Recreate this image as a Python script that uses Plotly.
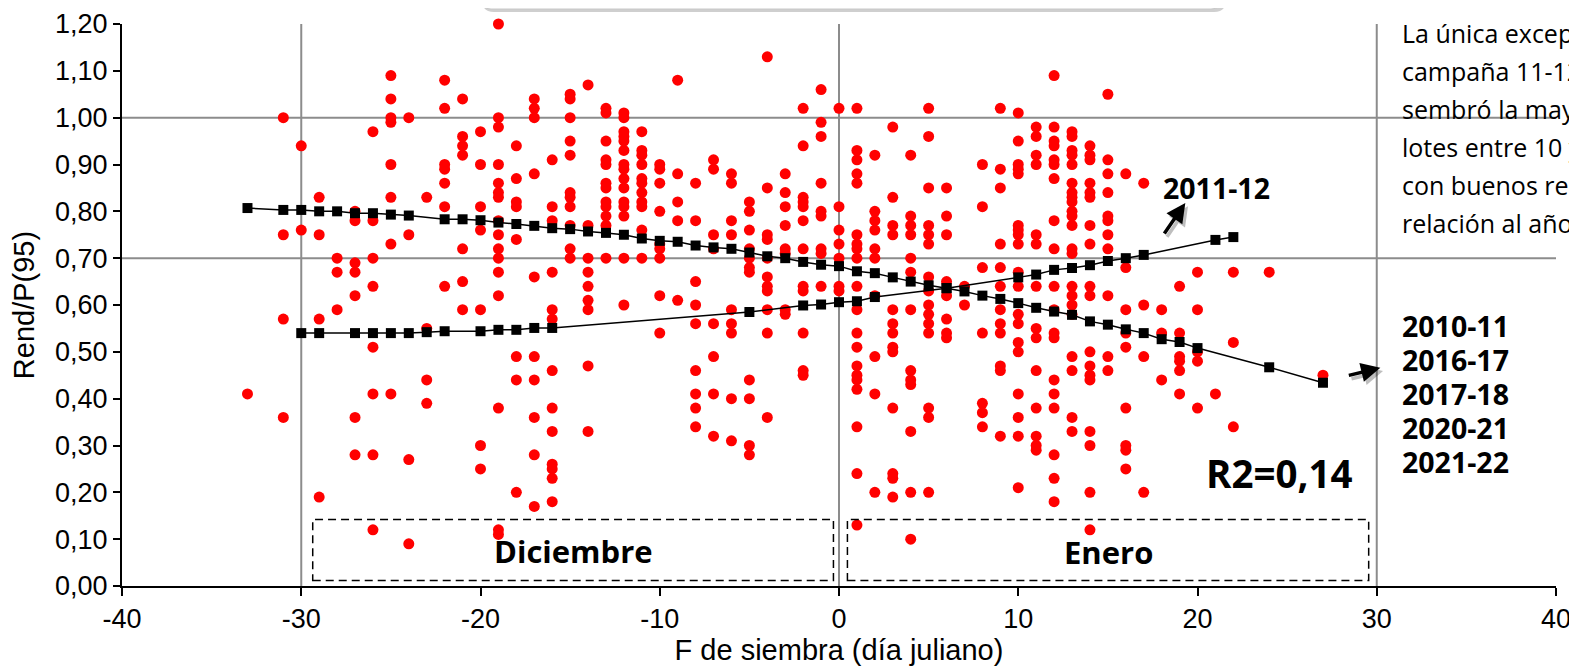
import plotly.graph_objects as go

# Observaciones: día juliano relativo y Rend/P(95) de cada lote
dias = [-33, -31, -30, -29, -28, -27, -26, -25, -24, -23, -22, -21, -20, -19, -18,
        -17, -16, -15, -14, -13, -12, -11, -10, -9, -8, -7, -6, -5, -4, -3, -2, -1,
        0, 1, 2, 3, 4, 5, 6, 7, 8, 9, 10, 11, 12, 13, 14, 15, 16, 17, 18, 19, 20,
        21, 22, 24, 27]
rend = [
    [0.41],
    [1.00, 0.75, 0.57, 0.36],
    [0.94, 0.76],
    [0.83, 0.75, 0.57, 0.19],
    [0.70, 0.67, 0.59],
    [0.80, 0.78, 0.69, 0.67, 0.62, 0.36, 0.28],
    [0.97, 0.78, 0.70, 0.64, 0.51, 0.41, 0.28, 0.12],
    [1.09, 1.04, 1.00, 0.99, 0.90, 0.83, 0.73, 0.41],
    [1.00, 0.75, 0.27, 0.09],
    [0.83, 0.55, 0.44, 0.39],
    [1.08, 1.02, 0.90, 0.89, 0.86, 0.81, 0.64],
    [1.04, 0.96, 0.94, 0.92, 0.72, 0.65, 0.59],
    [0.97, 0.90, 0.81, 0.76, 0.59, 0.30, 0.25],
    [1.20, 1.00, 0.98, 0.90, 0.86, 0.84, 0.83, 0.78, 0.75, 0.72, 0.70, 0.67, 0.62,
     0.38, 0.12, 0.11],
    [0.94, 0.87, 0.82, 0.81, 0.74, 0.49, 0.44, 0.20],
    [1.04, 1.02, 1.00, 0.88, 0.66, 0.49, 0.44, 0.36, 0.28, 0.17],
    [0.91, 0.81, 0.78, 0.67, 0.59, 0.57, 0.46, 0.38, 0.33, 0.26, 0.25, 0.23, 0.18],
    [1.05, 1.04, 1.00, 0.95, 0.92, 0.84, 0.83, 0.81, 0.77, 0.72, 0.70],
    [1.07, 0.77, 0.70, 0.67, 0.64, 0.61, 0.59, 0.47, 0.33],
    [1.02, 1.01, 0.95, 0.91, 0.90, 0.86, 0.85, 0.82, 0.81, 0.79, 0.77, 0.70],
    [1.01, 1.00, 0.97, 0.96, 0.95, 0.93, 0.90, 0.89, 0.87, 0.85, 0.82, 0.81, 0.79,
     0.70, 0.60],
    [0.97, 0.93, 0.92, 0.90, 0.87, 0.86, 0.84, 0.82, 0.81, 0.76, 0.70],
    [0.90, 0.89, 0.86, 0.80, 0.73, 0.72, 0.70, 0.62, 0.54],
    [1.08, 0.88, 0.82, 0.78, 0.61],
    [0.86, 0.78, 0.65, 0.60, 0.56, 0.46, 0.41, 0.38, 0.34],
    [0.91, 0.89, 0.75, 0.72, 0.56, 0.49, 0.41, 0.32],
    [0.88, 0.86, 0.78, 0.75, 0.59, 0.56, 0.54, 0.40, 0.31],
    [0.82, 0.80, 0.76, 0.72, 0.70, 0.68, 0.67, 0.44, 0.40, 0.30, 0.28],
    [1.13, 0.85, 0.75, 0.74, 0.70, 0.66, 0.64, 0.63, 0.59, 0.54, 0.36],
    [0.88, 0.84, 0.81, 0.77, 0.72, 0.71, 0.59, 0.58],
    [1.02, 0.94, 0.83, 0.82, 0.81, 0.78, 0.72, 0.64, 0.63, 0.54, 0.46, 0.45],
    [1.06, 0.99, 0.96, 0.86, 0.80, 0.79, 0.72, 0.71, 0.64],
    [1.02, 0.81, 0.76, 0.73, 0.70, 0.64, 0.63],
    [1.02, 0.93, 0.91, 0.88, 0.86, 0.75, 0.73, 0.72, 0.70, 0.64, 0.59, 0.54, 0.51,
     0.47, 0.45, 0.44, 0.42, 0.34, 0.24, 0.13],
    [0.92, 0.80, 0.78, 0.76, 0.72, 0.70, 0.62, 0.49, 0.41, 0.20],
    [0.98, 0.83, 0.77, 0.75, 0.59, 0.56, 0.54, 0.51, 0.50, 0.38, 0.24, 0.23, 0.19],
    [0.92, 0.79, 0.77, 0.75, 0.70, 0.67, 0.59, 0.46, 0.44, 0.43, 0.33, 0.20, 0.10],
    [1.02, 0.96, 0.85, 0.77, 0.75, 0.73, 0.66, 0.63, 0.60, 0.58, 0.56, 0.54, 0.38,
     0.36, 0.20],
    [0.85, 0.79, 0.75, 0.65, 0.62, 0.57, 0.54, 0.53],
    [0.64, 0.60],
    [0.90, 0.81, 0.68, 0.54, 0.39, 0.37, 0.34],
    [1.02, 0.89, 0.85, 0.73, 0.68, 0.64, 0.59, 0.56, 0.54, 0.47, 0.46, 0.32],
    [1.01, 0.95, 0.90, 0.89, 0.88, 0.77, 0.76, 0.75, 0.73, 0.67, 0.64, 0.58, 0.56,
     0.52, 0.50, 0.41, 0.36, 0.32, 0.21],
    [0.98, 0.96, 0.92, 0.90, 0.75, 0.73, 0.64, 0.55, 0.53, 0.46, 0.38, 0.32, 0.30,
     0.29],
    [1.09, 0.98, 0.95, 0.94, 0.91, 0.90, 0.87, 0.78, 0.72, 0.64, 0.59, 0.54, 0.53,
     0.44, 0.41, 0.38, 0.28, 0.23, 0.18],
    [0.97, 0.96, 0.93, 0.92, 0.90, 0.86, 0.84, 0.83, 0.82, 0.80, 0.79, 0.77, 0.72,
     0.71, 0.64, 0.62, 0.60, 0.58, 0.49, 0.46, 0.36, 0.33],
    [0.94, 0.92, 0.91, 0.86, 0.84, 0.83, 0.77, 0.73, 0.64, 0.62, 0.50, 0.47, 0.45,
     0.44, 0.33, 0.30, 0.20, 0.12],
    [1.05, 0.91, 0.88, 0.84, 0.79, 0.78, 0.75, 0.72, 0.62, 0.49, 0.46],
    [0.88, 0.68, 0.59, 0.54, 0.51, 0.38, 0.30, 0.29, 0.25],
    [0.86, 0.60, 0.49, 0.20],
    [0.59, 0.54, 0.44],
    [0.64, 0.54, 0.49, 0.48, 0.46, 0.41],
    [0.67, 0.59, 0.50, 0.48, 0.38],
    [0.41],
    [0.67, 0.52, 0.34],
    [0.67],
    [0.45],
]

# Ajuste general (todas las campañas menos 2011-12)
ajuste_dias = [-33, -31, -30, -29, -28, -27, -26, -25, -24, -22, -21, -20, -19, -18,
               -17, -16, -15, -14, -13, -12, -11, -10, -9, -8, -7, -6, -5, -4, -3,
               -2, -1, 0, 1, 2, 3, 4, 5, 6, 7, 8, 9, 10, 11, 12, 13, 14, 15, 16, 17,
               18, 19, 20, 24, 27]
ajuste_rend = [0.807, 0.803, 0.803, 0.800, 0.800, 0.796, 0.796, 0.793, 0.791, 0.783,
               0.783, 0.781, 0.776, 0.773, 0.769, 0.764, 0.762, 0.757, 0.754, 0.750,
               0.742, 0.737, 0.735, 0.727, 0.723, 0.720, 0.712, 0.704, 0.700, 0.692,
               0.686, 0.683, 0.672, 0.668, 0.659, 0.650, 0.642, 0.636, 0.629, 0.620,
               0.613, 0.604, 0.594, 0.586, 0.579, 0.565, 0.558, 0.548, 0.540, 0.527,
               0.521, 0.508, 0.467, 0.434]

# Ajuste campaña 2011-12
ajuste_1112_dias = [-30, -29, -27, -26, -25, -24, -23, -22, -20, -19, -18, -17, -16,
                    -5, -2, -1, 0, 1, 2, 6, 10, 11, 12, 13, 14, 15, 16, 17, 21, 22]
ajuste_1112_rend = [0.540, 0.540, 0.540, 0.540, 0.540, 0.540, 0.542, 0.544, 0.544,
                    0.547, 0.547, 0.551, 0.551, 0.585, 0.599, 0.601, 0.606, 0.608,
                    0.617, 0.636, 0.659, 0.665, 0.675, 0.679, 0.685, 0.694, 0.700,
                    0.707, 0.739, 0.745]

x_ticks = [-40, -30, -20, -10, 0, 10, 20, 30, 40]
y_ticks = [0.0, 0.1, 0.2, 0.3, 0.4, 0.5, 0.6, 0.7, 0.8, 0.9, 1.0, 1.1, 1.2]
campanias = ["2010-11", "2016-17", "2017-18", "2020-21", "2021-22"]
texto_lateral = ["fecha de siembra.", "La única excepción fue la",
                 "campaña 11-12 donde se", "sembró la mayoría de los",
                 "lotes entre 10 y 20 de enero", "con buenos rendimientos en",
                 "relación al año."]

obs_x = [d for d, vals in zip(dias, rend) for v in vals]
obs_y = [v for vals in rend for v in vals]

# la página agrega 8 px de margen al cuerpo
OFF = 8
W, H = 1577 - OFF, 666 - OFF
ML, MR, MT, MB = 114, 21, 16, 80
PW, PH = W - ML - MR, H - MT - MB


def px(fx):
    return (fx - OFF - ML) / PW


def py(fy):
    return (H - MB - (fy - OFF)) / PH


fig = go.Figure()

fig.add_trace(go.Scatter(
    x=obs_x, y=obs_y, mode="markers",
    marker=dict(color="#ff0000", size=11),
    cliponaxis=False
))

fig.add_trace(go.Scatter(
    x=ajuste_dias, y=ajuste_rend, mode="lines+markers",
    line=dict(color="black", width=1.5),
    marker=dict(symbol="square", size=10, color="black")
))

fig.add_trace(go.Scatter(
    x=ajuste_1112_dias, y=ajuste_1112_rend, mode="lines+markers",
    line=dict(color="black", width=1.5),
    marker=dict(symbol="square", size=10, color="black")
))

grid = dict(color="#8c8c8c", width=2)
shapes = []
for xv in [-30, 0, 30]:
    shapes.append(dict(type="line", x0=xv, x1=xv, y0=0, y1=1.2, line=grid, layer="below"))
for yv in [0.7, 1.0]:
    shapes.append(dict(type="line", x0=-40, x1=40, y0=yv, y1=yv, line=grid, layer="below"))

caja = dict(color="black", width=1.5, dash="8px,5px")
shapes.append(dict(type="rect", x0=-29.36, x1=-0.31, y0=0.012, y1=0.142, line=caja))
shapes.append(dict(type="rect", x0=0.47, x1=29.55, y0=0.012, y1=0.142, line=caja))


def rounded(x0, x1, y0, y1, r):
    return (f"M {px(x0 + r)} {py(y1)} L {px(x1 - r)} {py(y1)} "
            f"Q {px(x1)} {py(y1)} {px(x1)} {py(y1 - r)} "
            f"L {px(x1)} {py(y0)} L {px(x0)} {py(y0)} "
            f"L {px(x0)} {py(y1 - r)} Q {px(x0)} {py(y1)} {px(x0 + r)} {py(y1)} Z")


# recuadro superior (cortado)
shapes.append(dict(type="path", xref="paper", yref="paper",
                   path=rounded(482, 1226, -40, 12, 12),
                   fillcolor="#cfcfcf", line=dict(width=0)))
shapes.append(dict(type="path", xref="paper", yref="paper",
                   path=rounded(479, 1223, -40, 9, 12),
                   fillcolor="white", line=dict(color="#c8c8c8", width=1)))
shapes.append(dict(type="line", xref="paper", yref="paper",
                   x0=px(494), x1=px(1210), y0=py(2), y1=py(2),
                   line=dict(color="#c6e3b3", width=2)))

bold = dict(family="Open Sans, Lato, sans-serif", color="black", weight="bold")
annotations = [
    dict(x=-14.83, y=0.074, text="Diciembre", showarrow=False, font=dict(bold, size=31)),
    dict(x=15.03, y=0.072, text="Enero", showarrow=False, font=dict(bold, size=31)),
    dict(x=17.94, y=0.850, text="2011-12", xanchor="left", showarrow=False,
         font=dict(bold, size=28.5)),
    dict(x=24.57, y=0.242, text="R2=0,14", showarrow=False, font=dict(bold, size=38.5)),
]
for i, c in enumerate(campanias):
    annotations.append(dict(x=31.3, y=0.556 - i * 0.073, text=c, xanchor="left",
                            showarrow=False, font=dict(bold, size=28.5)))
for i, t in enumerate(texto_lateral):
    annotations.append(dict(x=31.3, y=1.262 - i * 0.081, text=t, xanchor="left",
                            showarrow=False,
                            font=dict(family="Open Sans, sans-serif", size=25,
                                      color="black")))

# flechas
for hx, hy, ax, ay in [(19.32, 0.818, -22, 32), (30.2, 0.466, -33, 8)]:
    annotations.append(dict(x=hx + 0.15, y=hy - 0.007, ax=ax, ay=ay, text="",
                            showarrow=True, arrowhead=2, arrowsize=1.1,
                            arrowwidth=3.5, arrowcolor="rgba(0,0,0,0.25)",
                            standoff=0, startstandoff=0))
    annotations.append(dict(x=hx, y=hy, ax=ax, ay=ay, text="", showarrow=True,
                            arrowhead=2, arrowsize=1.1, arrowwidth=3.5,
                            arrowcolor="black", standoff=0, startstandoff=0))

fig.update_layout(
    width=W, height=H,
    margin=dict(l=ML, r=MR, t=MT, b=MB),
    plot_bgcolor="white", paper_bgcolor="white",
    showlegend=False,
    separators=",.",
    font=dict(family="Liberation Sans, Arial, sans-serif", color="black"),
    shapes=shapes,
    annotations=annotations
)

fig.update_xaxes(
    range=[-40, 40], tickvals=x_ticks, ticktext=[str(v) for v in x_ticks],
    showgrid=False, zeroline=False, showline=True, linecolor="black", linewidth=2,
    ticks="outside", ticklen=8, tickwidth=2, tickcolor="black",
    tickfont=dict(size=27), automargin=False,
    title=dict(text="F de siembra (día juliano)", font=dict(size=29), standoff=4)
)
fig.update_yaxes(
    range=[0, 1.2], tickvals=y_ticks, tickformat=".2f",
    showgrid=False, zeroline=False, showline=True, linecolor="black", linewidth=2,
    ticks="outside", ticklen=7, tickwidth=2, tickcolor="black",
    tickfont=dict(size=27), automargin=False,
    title=dict(text="Rend/P(95)", font=dict(size=29), standoff=12)
)

fig.write_html("out.html")
